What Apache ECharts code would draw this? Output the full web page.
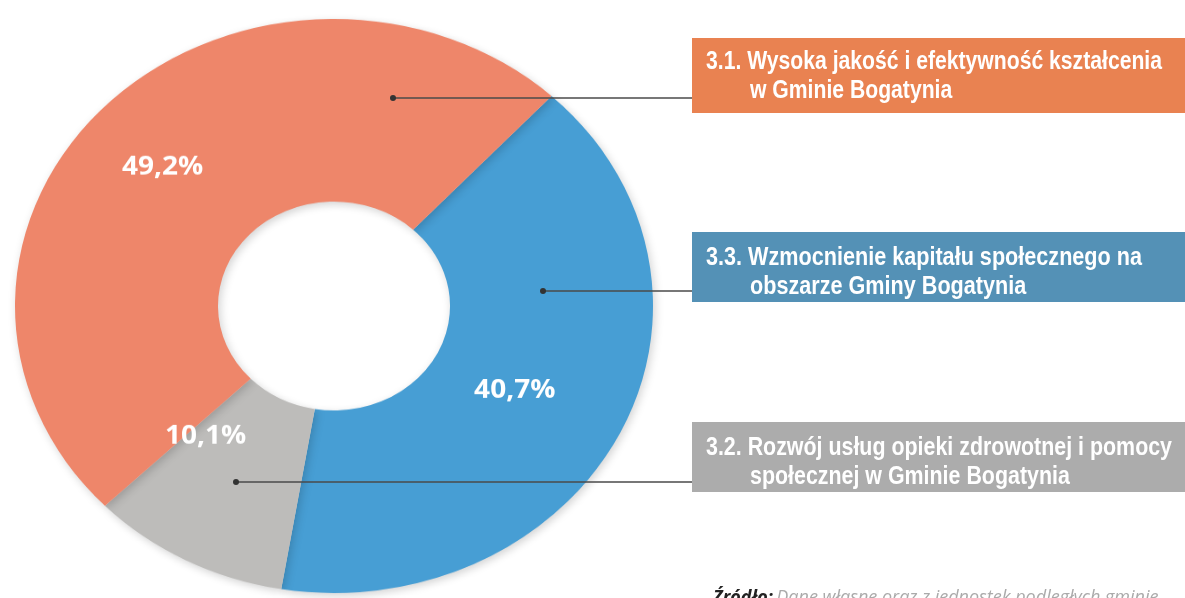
<!DOCTYPE html>
<html>
<head>
<meta charset="utf-8">
<script src="https://cdn.jsdelivr.net/npm/echarts@6/dist/echarts.min.js"></script>
<style>
  html, body { margin: 0; padding: 0; background: #fff; }
  #wrap { position: relative; width: 1185px; height: 598px; overflow: hidden; background: #fff; }
  /* wykres kołowy jest lekko spłaszczony (efekt perspektywy jak w oryginale) */
  #pie { position: absolute; left: 0; top: 0; width: 1185px; height: 664px;
         transform: scaleY(0.9); transform-origin: 0 0; }
  #notes { position: absolute; left: 0; top: 0; width: 1185px; height: 598px; }
</style>
</head>
<body>
<div id="wrap">
  <div id="pie"></div>
  <div id="notes"></div>
</div>
<script>
// dane wykresu
const categories = ['3.3', '3.2', '3.1'];
const values = [40.7, 10.1, 49.2];
const valueLabels = ['40,7%', '10,1%', '49,2%'];
const captionLine1 = [
  '3.3. Wzmocnienie kapitału społecznego na',
  '3.2. Rozwój usług opieki zdrowotnej i pomocy',
  '3.1. Wysoka jakość i efektywność kształcenia'
];
const captionLine2 = [
  'obszarze Gminy Bogatynia',
  'społecznej w Gminie Bogatynia',
  'w Gminie Bogatynia'
];
const sourceLabel = 'Źródło:';
const sourceText = 'Dane własne oraz z jednostek podległych gminie';

const sliceColors = ['#479ed4', '#bdbcba', '#ee866a'];
const boxColors = ['#5491b6', '#acacac', '#e98251'];
// przesunięcia etykiet procentowych
const labelShift = [[-17, -4], [-26, -50], [-14, 0]];
// objaśnienia: pole, wiersze tekstu, szerokość pierwszego wiersza, linia prowadząca
const boxTop = [232, 422, 38];
const boxHeight = [70, 70, 75];
const lineY = [[258, 287], [448, 477], [62, 91]];
const line1Width = [436, 466, 456];
const leader = [[543, 291], [236, 482], [393, 98]];

const captionFont = 'bold 25px "Liberation Sans", Arial, sans-serif';

// --- wykres pierścieniowy ---
const pieChart = echarts.init(document.getElementById('pie'));
pieChart.setOption({
  animation: false,
  series: [{
    type: 'pie',
    center: [334, 340],
    radius: [116, 319],
    startAngle: 47,
    clockwise: true,
    silent: true,
    data: categories.map((c, i) => ({
      name: c,
      value: values[i],
      itemStyle: { color: sliceColors[i] },
      label: { formatter: valueLabels[i] }
    })),
    itemStyle: {
      shadowBlur: 10,
      shadowColor: 'rgba(0,0,0,0.18)',
      shadowOffsetX: 2,
      shadowOffsetY: 3
    },
    label: {
      show: true,
      position: 'inside',
      color: '#fff',
      fontFamily: '"Open Sans", "Noto Sans", sans-serif',
      fontWeight: 'bold',
      fontSize: 28
    },
    labelLine: { show: false },
    labelLayout: function (params) {
      const s = labelShift[params.dataIndex];
      return { dx: s[0], dy: s[1] };
    }
  }]
});

// --- objaśnienia (pola z opisami i linie prowadzące) ---
const ctx = document.createElement('canvas').getContext('2d');
ctx.font = captionFont;

const graphics = [];
categories.forEach((c, i) => {
  const top = boxTop[i];
  // zwężenie tekstu, aby imitować krój condensed
  const sx = line1Width[i] / ctx.measureText(captionLine1[i]).width;
  graphics.push({
    type: 'rect',
    shape: { x: 692, y: top, width: 493, height: boxHeight[i] },
    style: { fill: boxColors[i] },
    z: 10
  });
  graphics.push({
    type: 'text',
    x: 706, y: lineY[i][0], scaleX: sx,
    style: { text: captionLine1[i], fill: '#fff', font: captionFont, verticalAlign: 'middle' },
    z: 11
  });
  graphics.push({
    type: 'text',
    x: 750, y: lineY[i][1], scaleX: sx,
    style: { text: captionLine2[i], fill: '#fff', font: captionFont, verticalAlign: 'middle' },
    z: 11
  });
  graphics.push({
    type: 'line',
    shape: { x1: leader[i][0], y1: leader[i][1], x2: 692, y2: leader[i][1] },
    style: { stroke: '#4a4a4a', lineWidth: 1.5 },
    z: 12
  });
  graphics.push({
    type: 'circle',
    shape: { cx: leader[i][0], cy: leader[i][1], r: 3 },
    style: { fill: '#333' },
    z: 12
  });
});

graphics.push({
  type: 'text',
  x: 713, y: 598,
  style: {
    text: '{b|' + sourceLabel + '} {i|' + sourceText + '}',
    verticalAlign: 'middle',
    rich: {
      b: { font: 'italic bold 18px "Open Sans", sans-serif', fill: '#222' },
      i: { font: 'italic 18px "Open Sans", sans-serif', fill: '#aaa' }
    }
  },
  z: 11
});

const notesChart = echarts.init(document.getElementById('notes'));
notesChart.setOption({ animation: false, graphic: graphics });
</script>
</body>
</html>
